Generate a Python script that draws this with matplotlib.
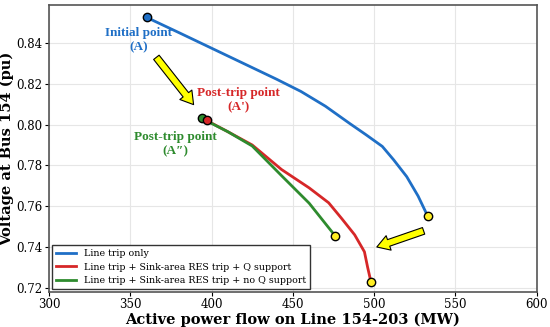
import matplotlib
matplotlib.use("Agg")
import matplotlib.pyplot as plt

plt.rcParams['font.family'] = 'DejaVu Serif'

# Line trip only
p_blue = [360, 380, 400, 420, 440, 455, 470, 485, 495, 505, 512, 520, 527, 533]
v_blue = [0.8525, 0.8450, 0.8374, 0.8298, 0.8222, 0.8162, 0.8090, 0.8005, 0.7950, 0.7893,
          0.7827, 0.7745, 0.7650, 0.7550]
# Line trip + Sink-area RES trip + Q support
p_red = [397, 410, 425, 443, 460, 472, 480, 488, 494, 496, 498]
v_red = [0.802, 0.7965, 0.7900, 0.7780, 0.7690, 0.7617, 0.7540, 0.7460, 0.7377, 0.7300, 0.7230]
# Line trip + Sink-area RES trip + no Q support
p_green = [394, 410, 425, 443, 460, 476]
v_green = [0.803, 0.7965, 0.7895, 0.7750, 0.7615, 0.7455]

labels = ['Line trip only',
          'Line trip + Sink-area RES trip + Q support',
          'Line trip + Sink-area RES trip + no Q support']
c_blue, c_red, c_green = '#1f6fc6', '#d62728', '#2e8b2e'

fig = plt.figure(figsize=(5.5, 3.27), dpi=100)
ax = fig.add_axes([0.089, 0.107, 0.887, 0.878])

ax.plot(p_blue, v_blue, color=c_blue, lw=2, label=labels[0], zorder=3)
ax.plot(p_red, v_red, color=c_red, lw=2, label=labels[1], zorder=3)
ax.plot(p_green, v_green, color=c_green, lw=2, label=labels[2], zorder=3)

mk = dict(marker='o', ms=6, mec='black', mew=1, ls='none', zorder=5)
ax.plot(p_blue[0], v_blue[0], color=c_blue, **mk)
ax.plot(p_green[0], v_green[0], color=c_green, **mk)
ax.plot(p_red[0], v_red[0], color=c_red, **mk)
for p, v in [(p_blue, v_blue), (p_red, v_red), (p_green, v_green)]:
    ax.plot(p[-1], v[-1], color='#ffee22', **mk)

arrow = dict(arrowstyle='simple,head_width=1.1,head_length=0.9,tail_width=0.5',
             fc='#ffff00', ec='black', lw=0.8)
ax.annotate('', xy=(390, 0.8087), xytext=(365, 0.8340), arrowprops=arrow, zorder=6)
ax.annotate('', xy=(500, 0.7396), xytext=(532, 0.7484), arrowprops=arrow, zorder=6)

tfont = dict(family='Liberation Serif', fontweight='bold', fontsize=9.5, ha='center',
             va='center', linespacing=1.25)
ax.text(355, 0.8415, 'Initial point\n(A)', color=c_blue, **tfont)
ax.text(416.7, 0.8121, "Post-trip point\n(A')", color=c_red, **tfont)
ax.text(377.8, 0.7905, 'Post-trip point\n(A\u2033)', color=c_green, **tfont)

ax.set_xlim(300, 600)
ax.set_ylim(0.718, 0.8586)
ax.set_xticks([300, 350, 400, 450, 500, 550, 600])
ax.set_yticks([0.72, 0.74, 0.76, 0.78, 0.80, 0.82, 0.84])
ax.tick_params(labelsize=8.5, length=3, pad=1.5)
ax.grid(True, color='#e6e6e6', lw=0.8)
for s in ax.spines.values():
    s.set_color('#555555')
    s.set_linewidth(1.2)

ax.set_xlabel('Active power flow on Line 154-203 (MW)', fontweight='bold', fontsize=10.5, labelpad=1)
ax.set_ylabel('Voltage at Bus 154 (pu)', fontweight='bold', fontsize=10.5, labelpad=1.5)

leg = ax.legend(loc='lower left', fontsize=6.8, framealpha=1, fancybox=False,
                edgecolor='#333333', handlelength=2.2, borderaxespad=0.3, labelspacing=0.5)
leg.get_frame().set_linewidth(1)

fig.savefig('out.png', dpi=100)
